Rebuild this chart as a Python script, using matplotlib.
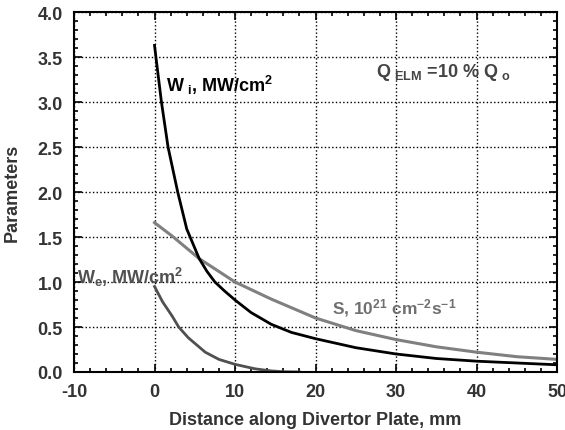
import matplotlib.pyplot as plt
from matplotlib.ticker import MultipleLocator

plt.rcParams['font.family'] = ['Liberation Sans', 'DejaVu Sans']
plt.rcParams['font.weight'] = 'bold'
plt.rcParams['axes.labelweight'] = 'bold'
plt.rcParams['axes.unicode_minus'] = False
plt.rcParams['mathtext.fontset'] = 'custom'
plt.rcParams['mathtext.rm'] = 'Liberation Sans:bold'
plt.rcParams['mathtext.bf'] = 'Liberation Sans:bold'
plt.rcParams['mathtext.default'] = 'bf'

# data
x_wi = [0, 0.2, 0.86, 1.68, 2.88, 4.0, 5.55, 6.5, 7.5, 8.7, 10, 12, 14.5, 17, 20, 25, 30, 35, 40, 45, 50]
y_wi = [3.63, 3.48, 3.0, 2.5, 2.0, 1.59, 1.26, 1.12, 1.0, 0.9, 0.8, 0.66, 0.53, 0.44, 0.37, 0.27, 0.2, 0.15, 0.12, 0.1, 0.08]

x_s = [0, 2.2, 5.55, 10, 14.5, 20, 25, 30, 35, 40, 45, 50]
y_s = [1.66, 1.51, 1.26, 1.0, 0.81, 0.6, 0.46, 0.36, 0.28, 0.22, 0.17, 0.14]

x_we = [0, 1, 2.2, 3.0, 4.2, 6.3, 8, 10, 12.5, 14.5, 16, 18]
y_we = [0.95, 0.78, 0.62, 0.5, 0.38, 0.22, 0.14, 0.085, 0.035, 0.012, 0.003, 0.0]

fig = plt.figure(figsize=(5.65, 4.31), dpi=100)
ax = fig.add_axes([0.131, 0.1346, 0.855, 0.835])

ax.plot(x_s, y_s, color='#808080', lw=2.2)
ax.plot(x_we, y_we, color='#505050', lw=2.0)
ax.plot(x_wi, y_wi, color='black', lw=2.0)

ax.set_xlim(-10, 50)
ax.set_ylim(0, 4)
ax.xaxis.set_major_locator(MultipleLocator(10))
ax.xaxis.set_minor_locator(MultipleLocator(2))
ax.yaxis.set_major_locator(MultipleLocator(0.5))
ax.yaxis.set_minor_locator(MultipleLocator(0.1))
ax.yaxis.set_major_formatter(plt.FormatStrFormatter('%.1f'))
ax.tick_params(which='both', direction='in', top=True, right=True, width=1.2)
ax.tick_params(which='major', length=6, labelsize=13, labelcolor='#333333')
ax.tick_params(axis='x', which='major', pad=8)
ax.tick_params(axis='y', which='major', pad=8)
ax.tick_params(which='minor', length=3)
for lab in ax.get_xticklabels() + ax.get_yticklabels():
    lab.set_fontweight('bold')
ax.grid(True, which='major', color='black', linestyle=':', lw=1)
for s in ax.spines.values():
    s.set_linewidth(1.5)

ax.set_xlabel('Distance along Divertor Plate, mm', fontsize=13, color='#333333', labelpad=8)
ax.set_ylabel('Parameters', fontsize=13, color='#333333', labelpad=4)
ax.yaxis.set_label_coords(-0.11, 0.5)

ax.text(1.4, 3.2, r'W$_{\ i}$, MW/cm$^{2}$', fontsize=13, color='black', va='center')
ax.text(27.5, 3.34, r'Q$_{\ ELM}$ =10 % Q$_{\ o}$', fontsize=13, color='#444444', va='center')
ax.text(-9.6, 1.06, r'W$_{e}$, MW/cm$^{2}$', fontsize=13, color='#505050', va='center')
ax.text(22, 0.72, r'S, 10$^{21}$ cm$^{-2}$s$^{-1}$', fontsize=12.5, color='#707070', va='center')

fig.savefig('out.png', dpi=100)
